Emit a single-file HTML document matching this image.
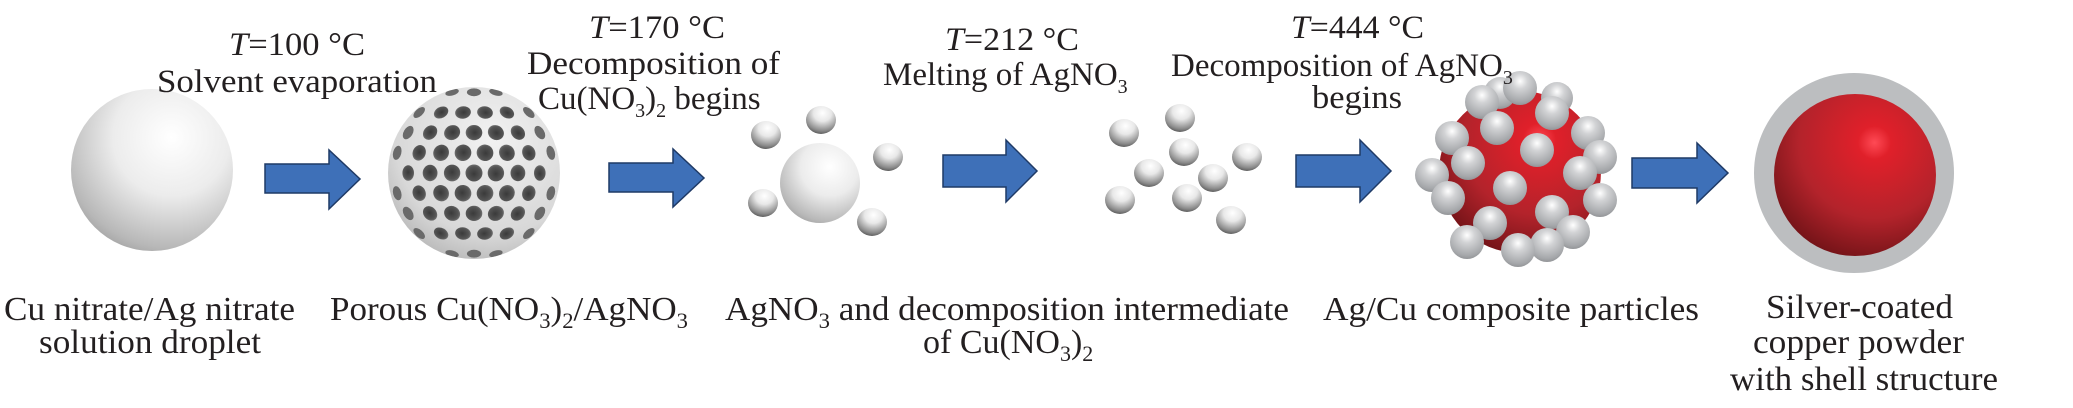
<!DOCTYPE html>
<html><head><meta charset="utf-8"><style>
html,body{margin:0;padding:0;background:#fff;}
svg{display:block;}
text{font-family:"Liberation Serif",serif;fill:#231f20;}
</style></head><body>
<svg id="s" width="2073" height="408" viewBox="0 0 2073 408" xmlns="http://www.w3.org/2000/svg">
<defs>
<radialGradient id="wg" cx="0.62" cy="0.3" r="0.8">
<stop offset="0" stop-color="#ffffff"/><stop offset="0.45" stop-color="#ececec"/><stop offset="0.85" stop-color="#b8b8b8"/><stop offset="1" stop-color="#9a9a9a"/>
</radialGradient>
<radialGradient id="sg" cx="0.55" cy="0.25" r="0.85">
<stop offset="0" stop-color="#ffffff"/><stop offset="0.35" stop-color="#e8e8e8"/><stop offset="0.75" stop-color="#8a8a8a"/><stop offset="1" stop-color="#3a3a3a"/>
</radialGradient>
<radialGradient id="pg" cx="0.6" cy="0.3" r="0.8">
<stop offset="0" stop-color="#f2f2f2"/><stop offset="0.7" stop-color="#d8d8d8"/><stop offset="1" stop-color="#b0b0b0"/>
</radialGradient>
<radialGradient id="hg" cx="0.5" cy="0.55" r="0.6">
<stop offset="0" stop-color="#3a3a3a"/><stop offset="0.7" stop-color="#555"/><stop offset="1" stop-color="#7a7a7a"/>
</radialGradient>
<radialGradient id="rg" cx="0.62" cy="0.3" r="0.85">
<stop offset="0" stop-color="#ff4a55"/><stop offset="0.12" stop-color="#e0202a"/><stop offset="0.55" stop-color="#b3232b"/><stop offset="1" stop-color="#5a0d10"/>
</radialGradient>
<radialGradient id="bg" cx="0.5" cy="0.3" r="0.75">
<stop offset="0" stop-color="#ffffff"/><stop offset="0.3" stop-color="#d2d3d5"/><stop offset="0.8" stop-color="#a5a7aa"/><stop offset="1" stop-color="#8a8c8f"/>
</radialGradient>
<clipPath id="pc"><circle cx="474" cy="173" r="86"/></clipPath>
</defs>

<circle cx="152" cy="170" r="81" fill="url(#wg)"/>

<circle cx="474" cy="173" r="86" fill="url(#pg)"/>
<g id="holes" clip-path="url(#pc)"></g>

<g fill="#3e70b8" stroke="#1f3a66" stroke-width="1.5">
<polygon points="265,164 329,164 329,150 360,179 329,209 329,193 265,193"/>
<polygon points="609,163 673,163 673,149 704,178 673,207 673,192 609,192"/>
<polygon points="943,155 1006,155 1006,140 1037,171 1006,202 1006,187 943,187"/>
<polygon points="1296,155 1360,155 1360,140 1391,171 1360,202 1360,187 1296,187"/>
<polygon points="1632,158 1697,158 1697,143 1728,173 1697,203 1697,188 1632,188"/>
</g>

<circle cx="820" cy="183" r="40" fill="url(#wg)"/>
<g fill="url(#sg)">
<ellipse cx="766" cy="135" rx="15" ry="14"/><ellipse cx="821" cy="120" rx="15" ry="14"/><ellipse cx="888" cy="157" rx="15" ry="14"/><ellipse cx="763" cy="203" rx="15" ry="14"/><ellipse cx="872" cy="222" rx="15" ry="14"/>
<ellipse cx="1124" cy="133" rx="15" ry="14"/><ellipse cx="1180" cy="118" rx="15" ry="14"/><ellipse cx="1184" cy="152" rx="15" ry="14"/><ellipse cx="1247" cy="157" rx="15" ry="14"/><ellipse cx="1149" cy="173" rx="15" ry="14"/><ellipse cx="1213" cy="178" rx="15" ry="14"/><ellipse cx="1120" cy="200" rx="15" ry="14"/><ellipse cx="1187" cy="198" rx="15" ry="14"/><ellipse cx="1231" cy="220" rx="15" ry="14"/>
</g>

<circle cx="1520" cy="172" r="81" fill="url(#rg)"/>
<g fill="url(#bg)">
<circle cx="1500" cy="93" r="16"/><circle cx="1520" cy="88" r="17"/><circle cx="1482" cy="102" r="17"/><circle cx="1557" cy="98" r="16"/><circle cx="1552" cy="113" r="17"/>
<circle cx="1497" cy="128" r="17"/><circle cx="1588" cy="133" r="17"/><circle cx="1452" cy="138" r="17"/><circle cx="1537" cy="150" r="17"/><circle cx="1600" cy="157" r="17"/>
<circle cx="1468" cy="163" r="17"/><circle cx="1580" cy="173" r="17"/><circle cx="1432" cy="175" r="17"/><circle cx="1510" cy="188" r="17"/><circle cx="1600" cy="200" r="17"/>
<circle cx="1448" cy="198" r="17"/><circle cx="1552" cy="212" r="17"/><circle cx="1490" cy="223" r="17"/><circle cx="1573" cy="232" r="17"/><circle cx="1467" cy="242" r="17"/>
<circle cx="1547" cy="245" r="17"/><circle cx="1518" cy="250" r="17"/>
</g>

<circle cx="1854" cy="173" r="100" fill="#bcbec0"/>
<circle cx="1855" cy="175" r="81" fill="url(#rg)"/>

<g font-size="33">
<text x="229" y="55" textLength="136" lengthAdjust="spacingAndGlyphs"><tspan font-style="italic">T</tspan>=100 °C</text>
<text x="157" y="92" textLength="280" lengthAdjust="spacingAndGlyphs">Solvent evaporation</text>
<text x="589" y="38" textLength="136" lengthAdjust="spacingAndGlyphs"><tspan font-style="italic">T</tspan>=170 °C</text>
<text x="527" y="74" textLength="253" lengthAdjust="spacingAndGlyphs">Decomposition of</text>
<text x="538" y="109">Cu(NO<tspan font-size="20" dy="8">3</tspan><tspan dy="-8">)</tspan><tspan font-size="20" dy="8">2</tspan><tspan dy="-8"> begins</tspan></text>
<text x="945" y="50" textLength="134" lengthAdjust="spacingAndGlyphs"><tspan font-style="italic">T</tspan>=212 °C</text>
<text x="883" y="85">Melting of AgNO<tspan font-size="20" dy="8">3</tspan></text>
<text x="1291" y="38" textLength="133" lengthAdjust="spacingAndGlyphs"><tspan font-style="italic">T</tspan>=444 °C</text>
<text x="1171" y="76">Decomposition of AgNO<tspan font-size="20" dy="8">3</tspan></text>
<text x="1312" y="108" textLength="90" lengthAdjust="spacingAndGlyphs">begins</text>
</g>

<g font-size="34">
<text x="4" y="320" textLength="291" lengthAdjust="spacingAndGlyphs">Cu nitrate/Ag nitrate</text>
<text x="39" y="353" textLength="222" lengthAdjust="spacingAndGlyphs">solution droplet</text>
<text x="330" y="320" textLength="358" lengthAdjust="spacingAndGlyphs">Porous Cu(NO<tspan font-size="22" dy="8">3</tspan><tspan dy="-8">)</tspan><tspan font-size="22" dy="8">2</tspan><tspan dy="-8">/AgNO</tspan><tspan font-size="22" dy="8">3</tspan></text>
<text x="725" y="320" textLength="564" lengthAdjust="spacingAndGlyphs">AgNO<tspan font-size="22" dy="8">3</tspan><tspan dy="-8"> and decomposition intermediate</tspan></text>
<text x="923" y="353">of Cu(NO<tspan font-size="22" dy="8">3</tspan><tspan dy="-8">)</tspan><tspan font-size="22" dy="8">2</tspan></text>
<text x="1323" y="320" textLength="376" lengthAdjust="spacingAndGlyphs">Ag/Cu composite particles</text>
<text x="1766" y="318" textLength="187" lengthAdjust="spacingAndGlyphs">Silver-coated</text>
<text x="1753" y="353" textLength="211" lengthAdjust="spacingAndGlyphs">copper powder</text>
<text x="1730" y="390" textLength="268" lengthAdjust="spacingAndGlyphs">with shell structure</text>
</g>
</svg>
<script>
(function(){
var g=document.getElementById('holes'),cx=474,cy=173,R=86,h='';
var sp=0.255;
for(var i=-4;i<=4;i++){for(var j=-5;j<=5;j++){
 var u=(j+(i%2?0.5:0))*sp,v=i*sp*0.92;
 var d=u*u+v*v; if(d>0.985) continue;
 var z=Math.sqrt(1-d);
 var x=cx+u*R,y=cy+v*R;
 var r=8.5*(0.75+0.25*z);
 var ra=r*(0.3+0.7*z), rb=r;
 var ang=Math.atan2(v,u)*180/Math.PI;
 h+='<ellipse cx="'+x.toFixed(1)+'" cy="'+y.toFixed(1)+'" rx="'+ra.toFixed(1)+'" ry="'+rb.toFixed(1)+'" transform="rotate('+ang.toFixed(1)+' '+x.toFixed(1)+' '+y.toFixed(1)+')" fill="'+(z>0.55?'url(#hg)':'#6a6a6a')+'"/>';
}}
g.innerHTML=h;
})();
</script>
</body></html>
